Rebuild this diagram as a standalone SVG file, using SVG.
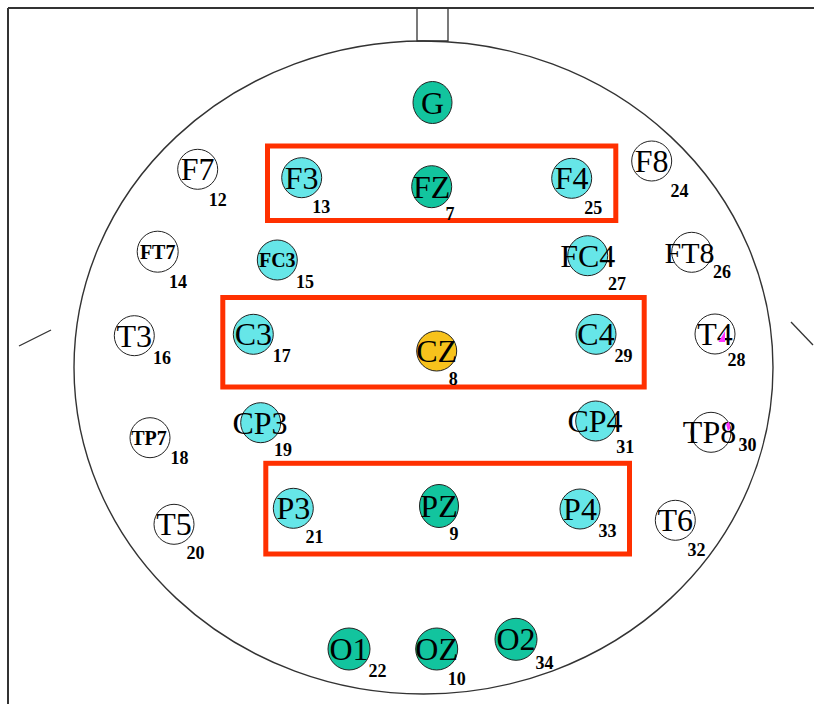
<svg xmlns="http://www.w3.org/2000/svg" width="814" height="704" viewBox="0 0 814 704">
<style>
  .frame{stroke:#333;stroke-width:2;fill:none}
  .line{stroke:#333;stroke-width:1.3;fill:none}
  .head{stroke:#333;stroke-width:1.4;fill:none}
  .box{stroke:#ff3000;stroke-width:5;fill:none}
  .white{fill:#ffffff;stroke:#222;stroke-width:1}
  .cyan{fill:#66e6e8;stroke:#222;stroke-width:1}
  .green{fill:#12c49e;stroke:#222;stroke-width:1}
  .yellow{fill:#f7c21c;stroke:#222;stroke-width:1}
  .lbl{font-family:"Liberation Serif","Times New Roman",serif;font-size:32px;fill:#000;text-anchor:middle}
  .lbs{font-family:"Liberation Serif","Times New Roman",serif;font-size:20px;font-weight:bold;fill:#000;text-anchor:middle}
  .num{font-family:"Liberation Serif","Times New Roman",serif;font-size:18px;font-weight:bold;fill:#000;text-anchor:middle}
  .mag{fill:#ff33ff}
</style>
<rect width="814" height="704" fill="#fff"/>
<g id="frame">
  <line class="frame" x1="8" y1="8" x2="814" y2="8"/>
  <line class="frame" x1="8" y1="8" x2="8" y2="704"/>
</g>
<g id="head">
  <ellipse class="head" cx="423.5" cy="367.5" rx="349.5" ry="326.5"/>
  <polyline class="line" points="417,8 417,41 448,41 448,8"/>
  <line class="line" x1="19" y1="346" x2="51" y2="330"/>
  <line class="line" x1="791" y1="322" x2="813" y2="345"/>
</g>
<g id="regions">
  <rect id="box-frontal" class="box" x="267.5" y="146" width="348.3" height="74.5"/>
  <rect id="box-central" class="box" x="222.8" y="297.5" width="421.4" height="89.5"/>
  <rect id="box-parietal" class="box" x="265.8" y="463.3" width="363.7" height="90.7"/>
</g>
<g id="connectors"></g>
<g id="G"><ellipse class="green" cx="432.5" cy="102.5" rx="19.5" ry="21"/><text class="lbl" x="432.5" y="113.5">G</text></g>
<g id="F7"><circle class="white" cx="197.7" cy="169.3" r="20"/><text class="lbl" x="197.7" y="180">F7</text><text class="num" x="217.7" y="206">12</text></g>
<g id="F3"><circle class="cyan" cx="301.7" cy="177.7" r="20"/><text class="lbl" x="301.7" y="188.5">F3</text><text class="num" x="321.3" y="213">13</text></g>
<g id="FZ"><ellipse class="green" cx="431.7" cy="186.7" rx="20" ry="21"/><text class="lbl" x="431.7" y="197.5">FZ</text><text class="num" x="450" y="220">7</text></g>
<g id="F4"><circle class="cyan" cx="571.7" cy="178.3" r="20"/><text class="lbl" x="571.7" y="189">F4</text><text class="num" x="593.3" y="214">25</text></g>
<g id="F8"><circle class="white" cx="651.7" cy="161" r="20"/><text class="lbl" x="651.7" y="171.8">F8</text><text class="num" x="679.5" y="197">24</text></g>
<g id="FT7"><circle class="white" cx="157.7" cy="251.7" r="20.5"/><text class="lbs" x="157.7" y="258.7">FT7</text><text class="num" x="178" y="288">14</text></g>
<g id="FC3"><circle class="cyan" cx="277.3" cy="260" r="20"/><text class="lbs" x="277.3" y="267">FC3</text><text class="num" x="305" y="288">15</text></g>
<g id="FC4"><circle class="cyan" cx="587.7" cy="255.7" r="20"/><text class="lbl" x="587.7" y="266.5">FC4</text><text class="num" x="617" y="290">27</text></g>
<g id="FT8"><circle class="white" cx="691.7" cy="252.3" r="20"/><text class="lbl" x="689.5" y="262.5" style="font-size:30px">FT8</text><text class="num" x="722" y="278">26</text></g>
<g id="T3"><circle class="white" cx="134.3" cy="335.7" r="20"/><text class="lbl" x="134.3" y="346.5">T3</text><text class="num" x="162" y="364">16</text></g>
<g id="C3"><circle class="cyan" cx="253.3" cy="334.3" r="20"/><text class="lbl" x="253.3" y="345">C3</text><text class="num" x="281.7" y="362">17</text></g>
<g id="CZ"><circle class="yellow" cx="436.7" cy="351" r="20"/><text class="lbl" x="436.7" y="361.8">CZ</text><text class="num" x="453.3" y="385">8</text></g>
<g id="C4"><circle class="cyan" cx="596" cy="334.3" r="20"/><text class="lbl" x="596" y="345">C4</text><text class="num" x="623.5" y="362">29</text></g>
<g id="T4"><circle class="white" cx="715" cy="334" r="20"/><text class="lbl" x="715" y="344.8">T4</text><polygon class="mag" points="725,331 718.5,342 725,342"/><text class="num" x="736.5" y="366">28</text></g>
<g id="TP7"><circle class="white" cx="150" cy="437.7" r="20"/><text class="lbs" x="149" y="445">TP7</text><text class="num" x="179.5" y="464">18</text></g>
<g id="CP3"><circle class="cyan" cx="260.7" cy="422.7" r="20"/><text class="lbl" x="260" y="433.5">CP3</text><text class="num" x="283" y="456">19</text></g>
<g id="CP4"><circle class="cyan" cx="595.7" cy="421" r="20"/><text class="lbl" x="595" y="431.8">CP4</text><text class="num" x="625.3" y="453">31</text></g>
<g id="TP8"><circle class="white" cx="711" cy="432.3" r="20"/><text class="lbl" x="709.5" y="443">TP8</text><polygon class="mag" points="726,424 729,421.5 730.5,428 728,431"/><text class="num" x="747.5" y="451">30</text></g>
<g id="T5"><circle class="white" cx="174" cy="524.3" r="20"/><text class="lbl" x="174" y="535">T5</text><text class="num" x="195.5" y="559">20</text></g>
<g id="P3"><circle class="cyan" cx="293.3" cy="508.3" r="20"/><text class="lbl" x="293.3" y="519">P3</text><text class="num" x="314.5" y="543">21</text></g>
<g id="PZ"><ellipse class="green" cx="439" cy="506" rx="19.5" ry="21.5"/><text class="lbl" x="439" y="516.8">PZ</text><text class="num" x="454" y="540">9</text></g>
<g id="P4"><circle class="cyan" cx="580" cy="509" r="20"/><text class="lbl" x="580" y="519.8">P4</text><text class="num" x="607.5" y="537">33</text></g>
<g id="T6"><circle class="white" cx="675.3" cy="520.3" r="20"/><text class="lbl" x="675.3" y="531">T6</text><text class="num" x="696.5" y="556">32</text></g>
<g id="O1"><circle class="green" cx="349" cy="649" r="21"/><text class="lbl" x="349" y="659.8">O1</text><text class="num" x="377.5" y="677">22</text></g>
<g id="OZ"><circle class="green" cx="436.7" cy="649" r="21"/><text class="lbl" x="436.7" y="659.8">OZ</text><text class="num" x="456.7" y="685">10</text></g>
<g id="O2"><circle class="green" cx="516" cy="639.3" r="21"/><text class="lbl" x="516" y="650">O2</text><text class="num" x="544.5" y="669">34</text></g>
</svg>
